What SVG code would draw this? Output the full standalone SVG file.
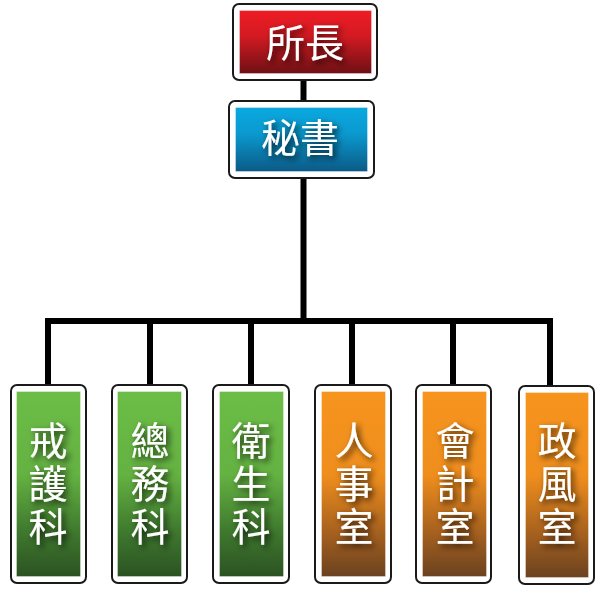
<svg xmlns="http://www.w3.org/2000/svg" width="604" height="595" viewBox="0 0 604 595">
<style>
.frame{fill:#ffffff;stroke:#1a1a1a;stroke-width:2}
.inner{stroke:#ffffff;stroke-opacity:0.35;stroke-width:1}
.lbl{font-family:"Noto Sans CJK TC","Noto Sans CJK JP",sans-serif;font-size:39px;fill:#ffffff;text-anchor:middle;filter:url(#sh)}
.vert{writing-mode:vertical-rl;letter-spacing:4px}
.conn{stroke:#000000;stroke-width:6;fill:none;stroke-linecap:square}
</style>
<defs>
<linearGradient id="gGreen" x1="0" y1="0" x2="0" y2="1">
<stop offset="0" stop-color="#6cbd47"/>
<stop offset="0.45" stop-color="#64b242"/>
<stop offset="0.75" stop-color="#3f7a2e"/>
<stop offset="1" stop-color="#2b5222"/>
</linearGradient>
<linearGradient id="gOrange" x1="0" y1="0" x2="0" y2="1">
<stop offset="0" stop-color="#f7941e"/>
<stop offset="0.45" stop-color="#ef8e1d"/>
<stop offset="0.75" stop-color="#a9621e"/>
<stop offset="1" stop-color="#6b4220"/>
</linearGradient>
<linearGradient id="gRed" x1="0" y1="0" x2="0" y2="1">
<stop offset="0" stop-color="#ee1c25"/>
<stop offset="0.4" stop-color="#d41a22"/>
<stop offset="1" stop-color="#6e1014"/>
</linearGradient>
<linearGradient id="gBlue" x1="0" y1="0" x2="0" y2="1">
<stop offset="0" stop-color="#0aa8e0"/>
<stop offset="0.4" stop-color="#0a9ad0"/>
<stop offset="1" stop-color="#0b5a86"/>
</linearGradient>
<filter id="sh" x="-40%" y="-40%" width="180%" height="180%">
<feGaussianBlur in="SourceAlpha" stdDeviation="3"/>
<feOffset dx="3" dy="3" result="b"/>
<feFlood flood-color="#000000" flood-opacity="0.75"/>
<feComposite in2="b" operator="in"/>
<feMerge><feMergeNode/><feMergeNode in="SourceGraphic"/></feMerge>
</filter>
</defs>

<g id="connectors">
<line class="conn" x1="303.5" y1="80" x2="303.5" y2="101"/>
<line class="conn" x1="303.5" y1="178" x2="303.5" y2="321"/>
<line class="conn" x1="48" y1="321" x2="550" y2="321"/>
<line class="conn" x1="48" y1="321" x2="48" y2="384"/>
<line class="conn" x1="150" y1="321" x2="150" y2="384"/>
<line class="conn" x1="251" y1="321" x2="251" y2="384"/>
<line class="conn" x1="352" y1="321" x2="352" y2="384"/>
<line class="conn" x1="453" y1="321" x2="453" y2="384"/>
<line class="conn" x1="550" y1="321" x2="550" y2="385"/>
</g>

<g id="director">
<rect class="frame" x="233" y="4" width="144" height="76" rx="6"/>
<rect class="inner" x="239.5" y="10.5" width="132" height="63" fill="url(#gRed)"/>
<text class="lbl" x="305" y="57">所長</text>
</g>

<g id="secretary">
<rect class="frame" x="229" y="101" width="145" height="77" rx="6"/>
<rect class="inner" x="235.5" y="107.5" width="132" height="64" fill="url(#gBlue)"/>
<text class="lbl" x="300" y="152">秘書</text>
</g>

<g id="n1">
<rect class="frame" x="11" y="385" width="75" height="198" rx="6"/>
<rect class="inner" x="16.5" y="391.5" width="64" height="185" fill="url(#gGreen)"/>
<text class="lbl vert" x="48" y="485">戒護科</text>
</g>

<g id="n2">
<rect class="frame" x="112" y="385" width="75" height="198" rx="6"/>
<rect class="inner" x="117.5" y="391.5" width="64" height="185" fill="url(#gGreen)"/>
<text class="lbl vert" x="150" y="485">總務科</text>
</g>

<g id="n3">
<rect class="frame" x="213" y="385" width="76" height="198" rx="6"/>
<rect class="inner" x="219.5" y="391.5" width="64" height="185" fill="url(#gGreen)"/>
<text class="lbl vert" x="251" y="485">衛生科</text>
</g>

<g id="n4">
<rect class="frame" x="315" y="385" width="76" height="198" rx="6"/>
<rect class="inner" x="321.5" y="391.5" width="64" height="185" fill="url(#gOrange)"/>
<text class="lbl vert" x="354" y="485">人事室</text>
</g>

<g id="n5">
<rect class="frame" x="416" y="385" width="75" height="198" rx="6"/>
<rect class="inner" x="422.5" y="391.5" width="64" height="185" fill="url(#gOrange)"/>
<text class="lbl vert" x="455" y="485">會計室</text>
</g>

<g id="n6">
<rect class="frame" x="519" y="386" width="75" height="198" rx="6"/>
<rect class="inner" x="525.5" y="392.5" width="63" height="185" fill="url(#gOrange)"/>
<text class="lbl vert" x="557" y="485">政風室</text>
</g>
</svg>
